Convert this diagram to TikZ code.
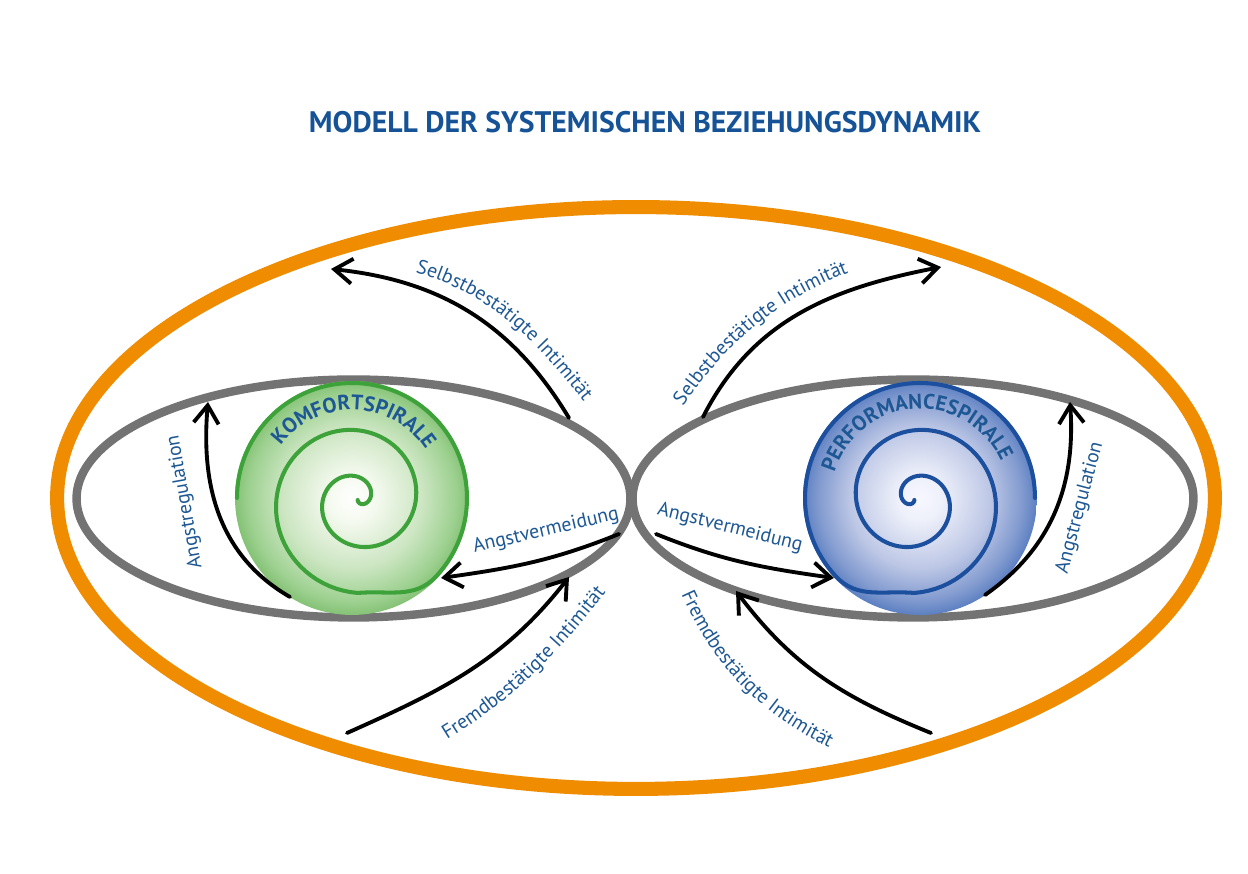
\documentclass[tikz,border=0pt]{standalone}
\usepackage{fontspec}
\setmainfont{PT Sans}
\usetikzlibrary{arrows.meta, calc, shapes.geometric, decorations.text}

\definecolor{titelblau}{RGB}{22,82,150}
\definecolor{textblau}{RGB}{30,88,148}
\definecolor{orangerand}{RGB}{240,140,0}
\definecolor{graurand}{RGB}{115,115,115}
\definecolor{gruenlinie}{RGB}{62,162,58}
\definecolor{blaulinie}{RGB}{28,80,158}

\pgfdeclareradialshading{gruenball}{\pgfpoint{0bp}{0bp}}{rgb(0bp)=(1,1,1); rgb(5bp)=(0.96,0.98,0.94); rgb(15bp)=(0.8,0.9,0.76); rgb(22bp)=(0.62,0.82,0.57); rgb(25bp)=(0.52,0.76,0.46); rgb(50bp)=(0.52,0.76,0.46)}
\pgfdeclareradialshading{blauball}{\pgfpoint{0bp}{0bp}}{rgb(0bp)=(0.97,0.97,1); rgb(5bp)=(0.93,0.94,0.98); rgb(15bp)=(0.74,0.78,0.9); rgb(22bp)=(0.5,0.6,0.81); rgb(25bp)=(0.36,0.5,0.76); rgb(50bp)=(0.36,0.5,0.76)}

\newcommand{\pfeiltext}{\fontsize{11.3}{13}\selectfont}
\newcommand{\spiraltext}{\bfseries\fontsize{12}{14}\selectfont}

\begin{document}
\begin{tikzpicture}[
  x=0.02cm, y=0.02cm,
  every node/.style={align=center, font=\pfeiltext, text=textblau},
  rand/.style={ellipse, draw=graurand, line width=4.8pt, inner sep=0pt, minimum height=4.76cm},
  ball/.style={circle, shade, minimum size=4.68cm, inner sep=0pt},
  spirale/.style={line width=2.3pt, line cap=round},
  pfeil/.style={-{Straight Barb[length=3.6mm, width=5mm]}, line width=2.2pt, line cap=round},
  schrift/.style={decorate, decoration={text along path, text align=center, text color=textblau, text={|\pfeiltext|#1}}},
  kreisschrift/.style={decorate, decoration={text along path, text align=center, text color=textblau, text={|\spiraltext|#1}}}
]
\useasboundingbox (0,0) rectangle (1248,874);
\fill[white] (0,0) rectangle (1248,874);

% Nodes
\node[font=\bfseries\fontsize{16.9}{20}\selectfont, text=titelblau] (titel) at (645,752) {MODELL DER SYSTEMISCHEN BEZIEHUNGSDYNAMIK};
\node[ellipse, draw=orangerand, line width=8pt, inner sep=0pt, minimum width=23.16cm, minimum height=11.64cm] (aussen) at (636,376) {};
\node[rand, minimum width=11.08cm] (links) at (353.5,375.5) {};
\node[rand, minimum width=11.22cm] (rechts) at (913,375.5) {};
\node[ball, shading=gruenball] (komfort) at (352,376) {};
\node[ball, shading=blauball] (performance) at (920,376) {};

% Spiralen
\draw[spirale, draw=gruenlinie] plot[domain=0:12.566, samples=160] ({357.7+7.4*\x*cos(270+deg(\x))}, {374+7.4*\x*sin(270+deg(\x))})
  to[out=5, in=227] ($(komfort.center)+(-43:115)$) arc[start angle=-43, end angle=180, radius=115];
\draw[spirale, draw=blaulinie] plot[domain=0:12.566, samples=160] ({914.3+7.4*\x*cos(270-deg(\x))}, {374+7.4*\x*sin(270-deg(\x))})
  to[out=175, in=-47] ($(performance.center)+(223:115)$) arc[start angle=223, end angle=0, radius=115];
\path[kreisschrift=KOMFORTSPIRALE] ($(komfort.center)+(165:88)$) arc[start angle=165, end angle=12, radius=88];
\path[kreisschrift=PERFORMANCESPIRALE] ($(performance.center)+(182:89)$) arc[start angle=182, end angle=6, radius=89];

% Endpunkte
\coordinate (kSelbstA) at (569,456);
\coordinate (kSelbstB) at (331,605);
\coordinate (pSelbstA) at (703,457);
\coordinate (pSelbstB) at (941,607);
\coordinate (kFremdA) at (347,141);
\coordinate (kFremdB) at (569,297);
\coordinate (pFremdA) at (931,141);
\coordinate (pFremdB) at (736,283);
\coordinate (kMeidA) at (619,340);
\coordinate (kMeidB) at (441,296);
\coordinate (pMeidA) at (656,340);
\coordinate (pMeidB) at (834,296);
\coordinate (kRegA) at (290,277);
\coordinate (kRegB) at (208,472);
\coordinate (pRegA) at (985,279);
\coordinate (pRegB) at (1070,472);

% Arrows
\draw[pfeil] (kSelbstA) to[out=121, in=-6] (kSelbstB);
\draw[pfeil] (pSelbstA) to[out=63, in=-169] (pSelbstB);
\draw[pfeil] (kFremdA) to[out=24, in=-128] (kFremdB);
\draw[pfeil] (pFremdA) to[out=158, in=-53] (pFremdB);
\draw[pfeil] (kMeidA) to[out=-158, in=8] (kMeidB);
\draw[pfeil] (pMeidA) to[out=-22, in=172] (pMeidB);
\draw[pfeil] (kRegA) to[out=150, in=-95] (kRegB);
\draw[pfeil] (pRegA) to[out=35, in=-86] (pRegB);

% Labels
\path[schrift={Selbstbestätigte Intimität}] (393,607) to[out=-12, in=128] (598,454);
\path[schrift={Selbstbestätigte Intimität}] (669,447) to[out=57, in=-161] (872,610);
\path[schrift={Fremdbestätigte Intimität}] (430,124) to[out=30, in=-128] (618,297);
\path[schrift={Fremdbestätigte Intimität}] (674,297) to[out=-68, in=155] (846,118);
\node[rotate=100] (lblRegL) at (185,372) {Angstregulation};
\node[rotate=75] (lblRegR) at (1080,366) {Angstregulation};
\node[rotate=13] (lblMeidL) at (546,343) {Angstvermeidung};
\node[rotate=-14] (lblMeidR) at (730,346) {Angstvermeidung};

\end{tikzpicture}
\end{document}
